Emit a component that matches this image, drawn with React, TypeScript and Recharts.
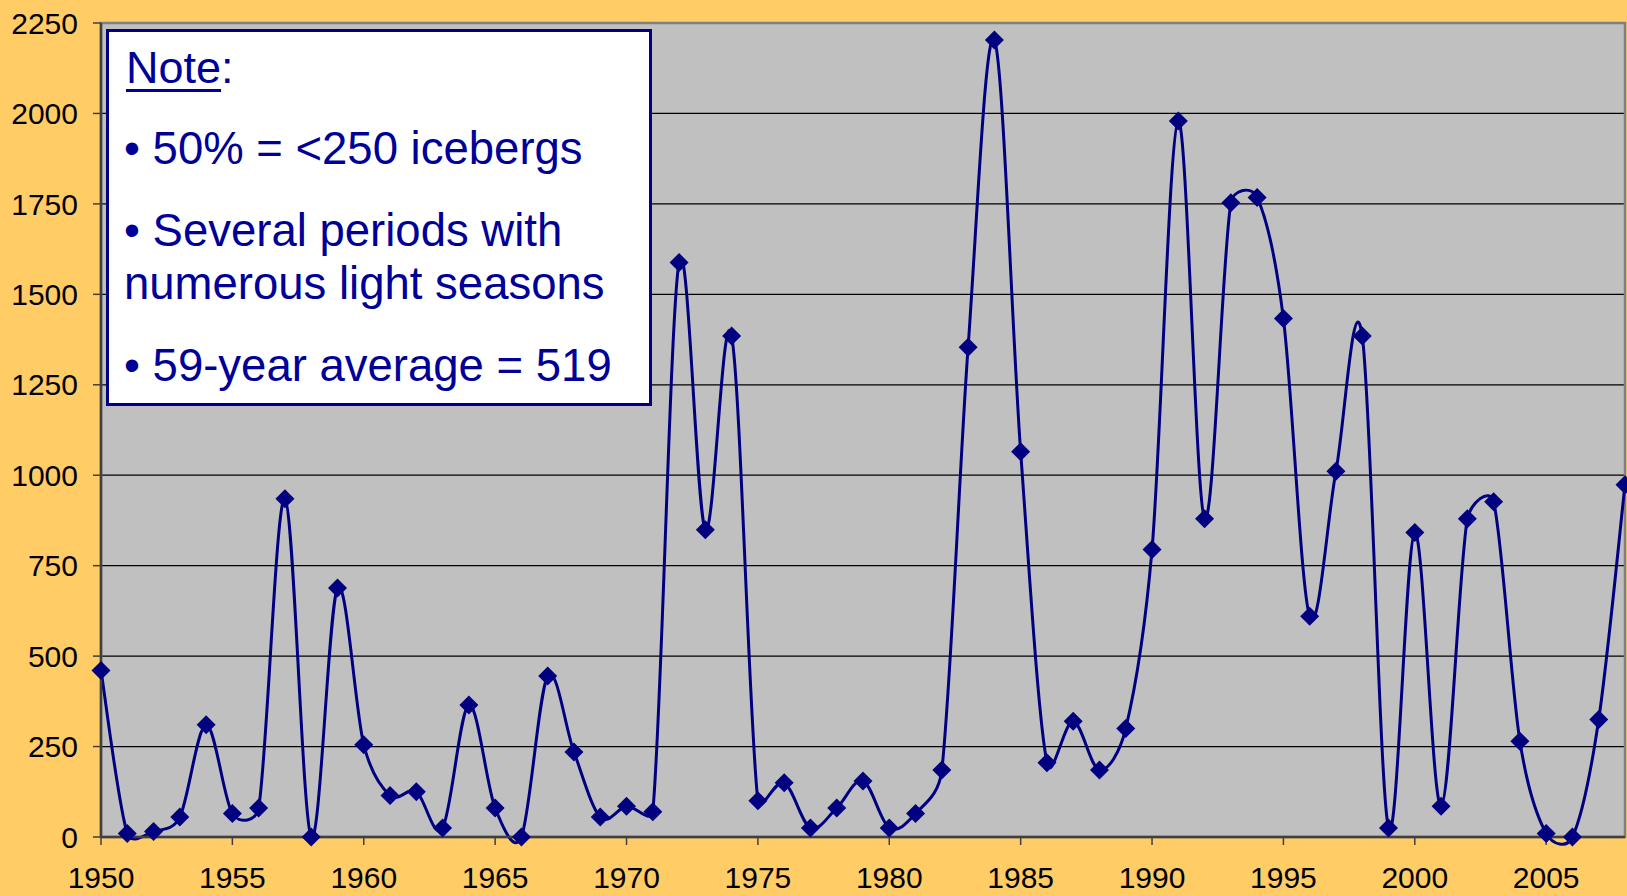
import { LineChart, Line, XAxis, YAxis, CartesianGrid, ReferenceArea } from "recharts";

// season counts (icebergs crossing 48°N)
const years = [
    1950, 1951, 1952, 1953, 1954, 1955, 1956, 1957, 1958, 1959,
    1960, 1961, 1962, 1963, 1964, 1965, 1966, 1967, 1968, 1969,
    1970, 1971, 1972, 1973, 1974, 1975, 1976, 1977, 1978, 1979,
    1980, 1981, 1982, 1983, 1984, 1985, 1986, 1987, 1988, 1989,
    1990, 1991, 1992, 1993, 1994, 1995, 1996, 1997, 1998, 1999,
    2000, 2001, 2002, 2003, 2004, 2005, 2006, 2007, 2008,
];
const icebergs = [
    460, 10, 15, 55, 310, 65, 80, 935, 0, 688,
    255, 115, 125, 25, 365, 80, 0, 445, 235, 55,
    85, 70, 1588, 849, 1385, 100, 150, 25, 80, 155,
    25, 65, 185, 1354, 2203, 1065, 205, 320, 185, 300,
    795, 1979, 880, 1753, 1768, 1433, 610, 1011, 1385, 25,
    842, 85, 880, 927, 265, 10, 0, 325, 974,
];
const xTicks = [1950, 1955, 1960, 1965, 1970, 1975, 1980, 1985, 1990, 1995, 2000, 2005];
const yTicks = [0, 250, 500, 750, 1000, 1250, 1500, 1750, 2000, 2250];

const noteTitle = "Note";
const noteLines = [
    "• 50% = <250 icebergs",
    "• Several periods with",
    "numerous light seasons",
    "• 59-year average = 519",
];

const data = years.map((year, i) => ({ year, count: icebergs[i] }));

const FONT = "Arial, 'Liberation Sans', sans-serif";
const NAVY = "#000080";

const dist = (a: number[], b: number[]) => Math.hypot(b[0] - a[0], b[1] - a[1]);

// Excel style smoothing: bezier with 1/6 tangents, capped at half the segment
const excelSmooth = (context: any) => {
    let pts: number[][] = [];
    return {
        areaStart() {},
        areaEnd() {},
        lineStart() {
            pts = [];
        },
        lineEnd() {
            const n = pts.length;
            if (!n) return;
            context.moveTo(pts[0][0], pts[0][1]);
            for (let i = 0; i < n - 1; i++) {
                const p0 = pts[Math.max(i - 1, 0)];
                const p1 = pts[i];
                const p2 = pts[i + 1];
                const p3 = pts[Math.min(i + 2, n - 1)];
                const d02 = dist(p0, p2);
                const d12 = dist(p1, p2);
                const d13 = dist(p1, p3);
                let f1 = 1 / 6;
                let f2 = 1 / 6;
                if (d02 > 0 && d02 / 6 > d12 / 2) f1 = d12 / (2 * d02);
                if (d13 > 0 && d13 / 6 > d12 / 2) f2 = d12 / (2 * d13);
                context.bezierCurveTo(
                    p1[0] + (p2[0] - p0[0]) * f1,
                    p1[1] + (p2[1] - p0[1]) * f1,
                    p2[0] - (p3[0] - p1[0]) * f2,
                    p2[1] - (p3[1] - p1[1]) * f2,
                    p2[0],
                    p2[1]
                );
            }
        },
        point(x: number, y: number) {
            pts.push([+x, +y]);
        },
    };
};

const Diamond = (props: any) => {
    const { cx, cy, index } = props;
    const r = 9.5;
    return (
        <path
            key={`d-${index}`}
            d={`M${cx},${cy - r}L${cx + r},${cy}L${cx},${cy + r}L${cx - r},${cy}Z`}
            fill={NAVY}
        />
    );
};

// baselines of the note lines, page pixels
const noteBaselines = [164, 246, 299, 381];

export default function App() {
    return (
        <div
            style={{
                position: "absolute",
                left: 0,
                top: 0,
                width: 1627,
                height: 896,
                background: "#FFCC66",
                overflow: "hidden",
                fontFamily: FONT,
            }}
        >
            <LineChart
                width={1627}
                height={896}
                data={data}
                margin={{ top: 23, right: 2, bottom: 0, left: 0 }}
                style={{ fontFamily: FONT }}
            >
                <CartesianGrid
                    vertical={false}
                    horizontal={true}
                    stroke="#000"
                    strokeWidth={1.3}
                    fill="#C0C0C0"
                    fillOpacity={1}
                />
                <ReferenceArea
                    x1={1950}
                    x2={2008}
                    y1={0}
                    y2={2250}
                    fill="none"
                    stroke="#808080"
                    strokeWidth={2.5}
                />
                <XAxis
                    dataKey="year"
                    type="number"
                    domain={[1950, 2008]}
                    ticks={xTicks}
                    interval={0}
                    height={59}
                    tickSize={8}
                    tickMargin={22}
                    axisLine={{ stroke: "#404040", strokeWidth: 2.5 }}
                    tickLine={{ stroke: "#404040", strokeWidth: 1.5 }}
                    tick={{ fill: "#000", fontSize: 30, fontFamily: FONT }}
                />
                <YAxis
                    type="number"
                    domain={[0, 2250]}
                    ticks={yTicks}
                    interval={0}
                    width={101}
                    tickSize={8}
                    tickMargin={15}
                    axisLine={{ stroke: "#404040", strokeWidth: 2.5 }}
                    tickLine={{ stroke: "#404040", strokeWidth: 1.5 }}
                    tick={{ fill: "#000", fontSize: 30, fontFamily: FONT }}
                />
                <Line
                    dataKey="count"
                    type={excelSmooth as any}
                    stroke={NAVY}
                    strokeWidth={3}
                    dot={Diamond}
                    activeDot={false}
                    isAnimationActive={false}
                />
            </LineChart>

            {/* note box */}
            <div
                style={{
                    position: "absolute",
                    left: 106,
                    top: 29,
                    width: 546,
                    height: 377,
                    boxSizing: "border-box",
                    background: "#fff",
                    border: `3px solid ${NAVY}`,
                }}
            />
            <div
                style={{
                    position: "absolute",
                    left: 126,
                    top: 83 - 38,
                    fontSize: 45,
                    lineHeight: "45px",
                    color: "#000099",
                    whiteSpace: "nowrap",
                }}
            >
                <span style={{ textDecoration: "underline", textDecorationThickness: 3, textUnderlineOffset: 6 }}>
                    {noteTitle}
                </span>
                :
            </div>
            {noteLines.map((line, i) => (
                <div
                    key={line}
                    style={{
                        position: "absolute",
                        left: 124,
                        top: noteBaselines[i] - 38,
                        fontSize: 45.5,
                        lineHeight: "45px",
                        color: "#000099",
                        whiteSpace: "nowrap",
                    }}
                >
                    {line}
                </div>
            ))}
        </div>
    );
}
